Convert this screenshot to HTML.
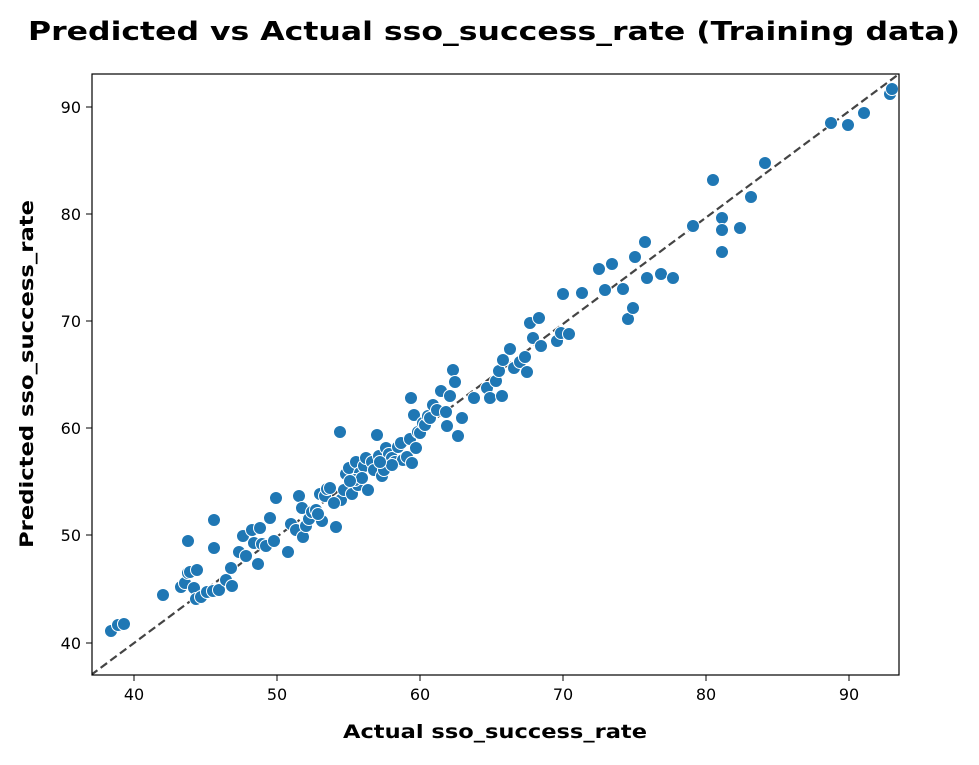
<!DOCTYPE html>
<html><head><meta charset="utf-8"><style>
body{margin:0;background:#fff;}
svg text{font-family:"DejaVu Sans","Liberation Sans",sans-serif;}
</style></head><body>
<svg width="979" height="760" xmlns="http://www.w3.org/2000/svg">
<rect width="979" height="760" fill="#fff"/>
<text x="28" y="40" font-size="26" font-weight="bold" textLength="932" lengthAdjust="spacingAndGlyphs">Predicted vs Actual sso_success_rate (Training data)</text>
<defs><clipPath id="c"><rect x="92" y="74" width="807" height="601"/></clipPath></defs>
<g clip-path="url(#c)">
<line x1="91" y1="675" x2="899" y2="74" stroke="#444" stroke-width="2.2" stroke-dasharray="8,4"/>
</g>
<g id="pts" fill="#1f77b4" stroke="#fff" stroke-width="1"></g>
<rect x="92" y="74" width="807" height="601" fill="none" stroke="#000" stroke-width="1.2"/>
<g font-size="16" fill="#000" stroke="#000">
<line x1="134" y1="675" x2="134" y2="681"/><line x1="277" y1="675" x2="277" y2="681"/><line x1="420" y1="675" x2="420" y2="681"/><line x1="563" y1="675" x2="563" y2="681"/><line x1="706" y1="675" x2="706" y2="681"/><line x1="849" y1="675" x2="849" y2="681"/>
<line x1="86" y1="107" x2="92" y2="107"/><line x1="86" y1="214" x2="92" y2="214"/><line x1="86" y1="321" x2="92" y2="321"/><line x1="86" y1="428" x2="92" y2="428"/><line x1="86" y1="535" x2="92" y2="535"/><line x1="86" y1="643" x2="92" y2="643"/>
</g>
<g font-size="16" text-anchor="middle">
<text x="134" y="700">40</text><text x="277" y="700">50</text><text x="420" y="700">60</text><text x="563" y="700">70</text><text x="706" y="700">80</text><text x="849" y="700">90</text>
</g>
<g font-size="16" text-anchor="end">
<text x="81" y="113">90</text><text x="81" y="220">80</text><text x="81" y="327">70</text><text x="81" y="434">60</text><text x="81" y="541">50</text><text x="81" y="649">40</text>
</g>
<text x="343" y="738" font-size="19" font-weight="bold" textLength="304" lengthAdjust="spacingAndGlyphs">Actual sso_success_rate</text>
<text transform="translate(33,548) rotate(-90)" font-size="19" font-weight="bold" textLength="348" lengthAdjust="spacingAndGlyphs">Predicted sso_success_rate</text>
</svg>
<script>
var p=[111,631,118,625,124,624,163,595,181,587,185,583,188,573,190,572,188,541,194,588,196,599,197,570,201,597,207,592,214,520,214,548,213,591,219,590,226,580,231,568,232,586,239,552,243,536,246,556,252,530,254,543,258,564,260,528,262,544,266,546,270,518,274,541,276,498,288,552,291,524,296,530,299,496,302,508,303,537,306,526,309,519,312,512,316,510,320,494,322,521,325,496,327,489,330,488,336,527,340,432,341,500,344,490,346,474,349,468,352,494,356,462,358,485,360,473,364,466,366,458,368,490,372,462,374,470,377,435,379,456,382,476,386,448,389,454,392,458,395,462,398,447,401,443,403,460,407,457,410,439,412,463,411,398,414,415,416,448,418,432,420,433,423,423,425,425,428,416,430,418,433,405,437,410,441,391,446,412,447,426,450,396,453,370,455,382,458,436,462,418,474,398,487,388,490,398,496,381,499,371,502,396,503,360,510,349,514,368,520,362,525,357,527,372,530,323,533,338,539,318,541,346,557,341,561,333,563,294,569,334,582,293,599,269,605,290,612,264,623,289,628,319,633,308,635,257,645,242,647,278,661,274,673,278,693,226,713,180,722,218,722,230,722,252,740,228,751,197,765,163,831,123,848,125,864,113,890,94,892,89,355,480,362,478,384,470,392,465,318,514,334,503,350,481,380,462];
var g=document.getElementById('pts'),s='';
for(var i=0;i<p.length;i+=2)s+='<circle cx="'+p[i]+'" cy="'+p[i+1]+'" r="6.5"/>';
g.innerHTML=s;
</script>
</body></html>
